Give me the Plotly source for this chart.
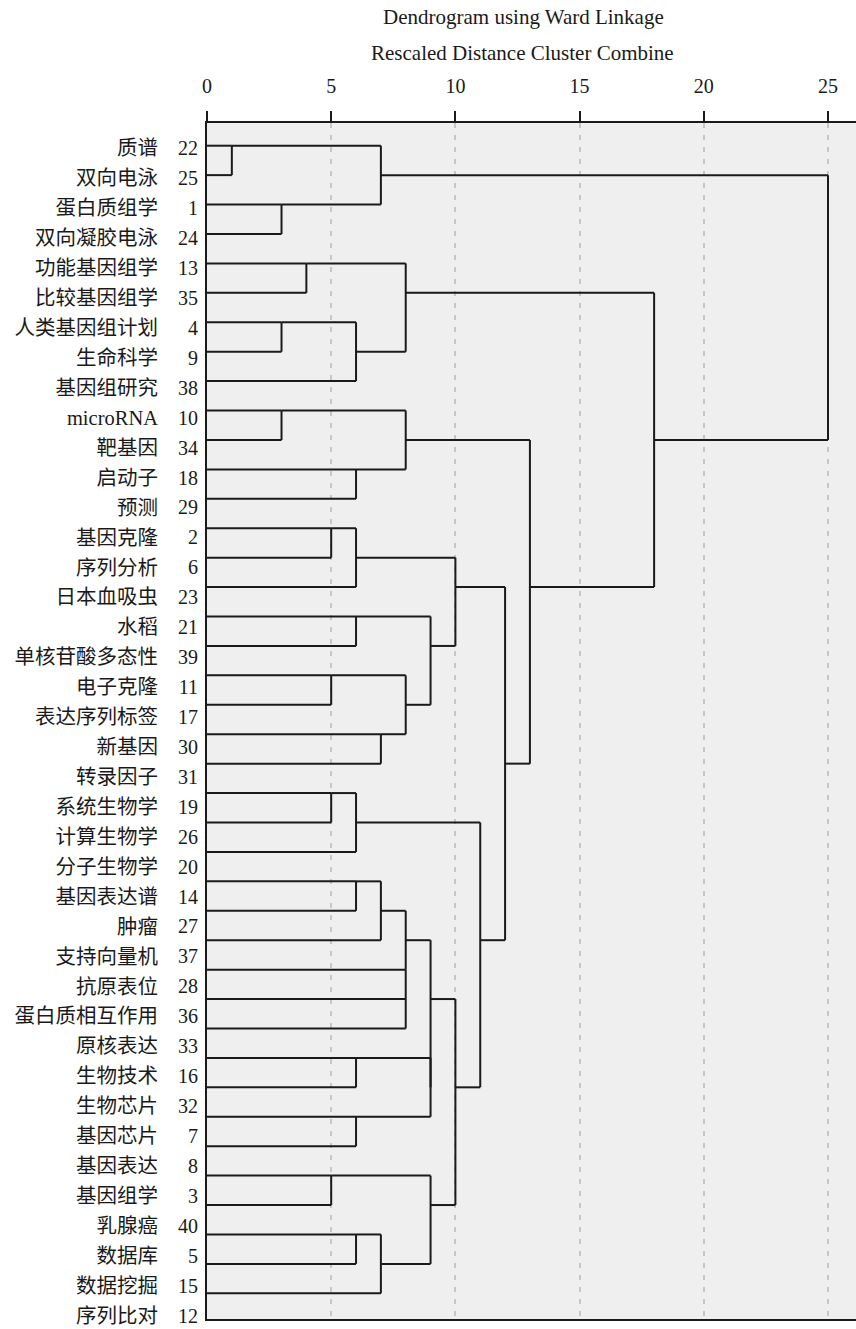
import plotly.graph_objects as go

# ---- data -------------------------------------------------------------
names = ["质谱", "双向电泳", "蛋白质组学", "双向凝胶电泳", "功能基因组学", "比较基因组学",
         "人类基因组计划", "生命科学", "基因组研究", "microRNA", "靶基因", "启动子", "预测",
         "基因克隆", "序列分析", "日本血吸虫", "水稻", "单核苷酸多态性", "电子克隆",
         "表达序列标签", "新基因", "转录因子", "系统生物学", "计算生物学", "分子生物学",
         "基因表达谱", "肿瘤", "支持向量机", "抗原表位", "蛋白质相互作用", "原核表达",
         "生物技术", "生物芯片", "基因芯片", "基因表达", "基因组学", "乳腺癌", "数据库",
         "数据挖掘", "序列比对"]
case_ids = [22, 25, 1, 24, 13, 35, 4, 9, 38, 10, 34, 18, 29, 2, 6, 23, 21, 39, 11, 17,
            30, 31, 19, 26, 20, 14, 27, 37, 28, 36, 33, 16, 32, 7, 8, 3, 40, 5, 15, 12]

# merges: rows (leaf order) of the two joined clusters and rescaled distance
merge_row_a = [0, 2, 6, 9, 4, 13, 18, 22, 35, 6, 11, 13, 16, 22, 25, 31, 33, 37,
               0, 20, 25, 37, 4, 9, 18, 29, 28, 26, 16, 31, 27, 35, 14, 29, 23, 15, 10, 5, 1]
merge_row_b = [1, 3, 7, 10, 5, 14, 19, 23, 36, 8, 12, 15, 17, 24, 26, 32, 34, 38,
               2, 21, 27, 39, 7, 11, 20, 30, 29, 28, 19, 33, 32, 38, 17, 36, 32, 27, 21, 15, 10]
merge_dist = [1, 3, 3, 3, 4, 5, 5, 5, 5, 6, 6, 6, 6, 6, 6, 6, 6, 6,
              7, 7, 7, 7, 8, 8, 8, 8, 8, 8, 9, 9, 9, 9, 10, 10, 11, 12, 13, 18, 25]

x_ticks = [0, 5, 10, 15, 20, 25]
title_text = "Dendrogram using Ward Linkage"
subtitle_text = "Rescaled Distance Cluster Combine"

# ---- build dendrogram segments ----------------------------------------
start = {r: 0 for r in range(len(names))}
xs, ys = [], []
for a, b, d in zip(merge_row_a, merge_row_b, merge_dist):
    for r in (a, b):
        xs += [start[r], d, None]
        ys += [r, r, None]
    xs += [d, d, None]
    ys += [a, b, None]
    start[(a + b) // 2] = d

W, H = 856, 1329
ML, MR, MT, MB = 207, 0, 123, 10
plot_w = W - ML - MR
plot_h = H - MT - MB
px_per_unit = 24.84
# rows of the tree lines
row0_line, row_step_line = 145.7, 29.426
# rows of the labels
row0_lab, row_step_lab = 148.3, 29.93

y_line_range = [(H - MB - row0_line) / row_step_line, (MT - row0_line) / row_step_line]
y_lab_range = [(H - MB - row0_lab) / row_step_lab, (MT - row0_lab) / row_step_lab]

serif = "Liberation Serif, Noto Sans CJK SC, serif"
ink = "#1a1a1a"

fig = go.Figure()
fig.add_trace(go.Scatter(x=xs, y=ys, mode="lines",
                         line=dict(color=ink, width=2),
                         hoverinfo="skip", showlegend=False))
fig.add_trace(go.Scatter(x=[None], y=[None], yaxis="y2", showlegend=False, hoverinfo="skip"))
fig.add_trace(go.Scatter(x=[None], y=[None], yaxis="y3", showlegend=False, hoverinfo="skip"))

lab_axis = dict(overlaying="y", side="left", anchor="x", range=y_lab_range,
                tickmode="array", tickvals=list(range(len(names))),
                showgrid=False, zeroline=False, showline=False, ticks="",
                automargin=False, ticklabeloverflow="allow")

fig.update_layout(
    width=W, height=H,
    margin=dict(l=ML, r=MR, t=MT, b=MB, pad=0),
    paper_bgcolor="white", plot_bgcolor="#efefef",
    font=dict(family=serif, color=ink),
    xaxis=dict(range=[0, plot_w / px_per_unit], side="top",
               tickmode="array", tickvals=x_ticks,
               ticks="outside", ticklen=10, tickwidth=2, tickcolor=ink,
               showline=True, linecolor=ink, linewidth=2, mirror=True,
               showgrid=True, gridcolor="#c6c6c6", gridwidth=1.5, griddash="5px,7px",
               zeroline=False, automargin=False, ticklabelstandoff=10,
               ticklabeloverflow="allow",
               tickfont=dict(family=serif, size=20, color=ink)),
    yaxis=dict(range=y_line_range, showline=True, linecolor=ink, linewidth=2,
               showgrid=False, zeroline=False, showticklabels=False, ticks="",
               automargin=False),
    yaxis2=dict(lab_axis, ticktext=[str(c) for c in case_ids], ticklabelstandoff=8,
                tickfont=dict(family=serif, size=20, color=ink)),
    yaxis3=dict(lab_axis, ticktext=names, ticklabelstandoff=48,
                tickfont=dict(family=serif, size=20.5, color=ink)),
    annotations=[
        dict(text=title_text, xref="paper", yref="paper",
             x=(523 - ML) / plot_w, y=1 + (MT - 17.3) / plot_h,
             xanchor="center", yanchor="middle", showarrow=False,
             font=dict(family=serif, size=21, color=ink)),
        dict(text=subtitle_text, xref="paper", yref="paper",
             x=(522 - ML) / plot_w, y=1 + (MT - 53.3) / plot_h,
             xanchor="center", yanchor="middle", showarrow=False,
             font=dict(family=serif, size=21, color=ink)),
    ],
)

fig.write_html("out.html")
